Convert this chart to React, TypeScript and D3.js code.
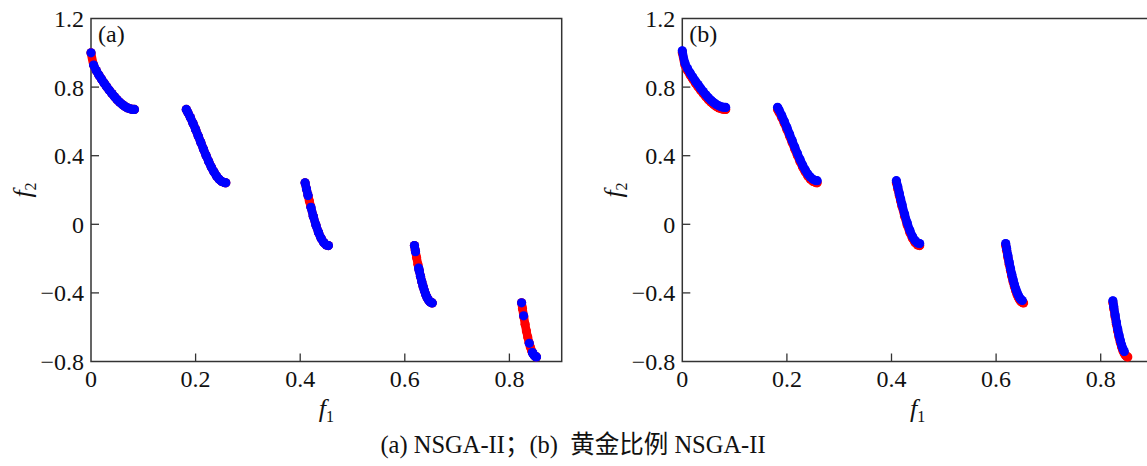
import React from 'react';
import * as d3 from 'd3';

type Pt = [number, number];

// ---- axis ticks ----
const X_TICKS = [0, 0.2, 0.4, 0.6, 0.8];
const X_TICK_LABELS = ['0', '0.2', '0.4', '0.6', '0.8'];
const Y_TICKS = [1.2, 0.8, 0.4, 0, -0.4, -0.8];
const Y_TICK_LABELS = ['1.2', '0.8', '0.4', '0', '−0.4', '−0.8'];

// ---- reference Pareto front (red), five disconnected pieces ----
const FRONT_SEG1: Pt[] = [[0, 1.0], [0.005, 0.9285], [0.01, 0.8969], [0.015, 0.8707], [0.02, 0.8468], [0.025, 0.8242], [0.03, 0.8025], [0.035, 0.7817], [0.04, 0.762], [0.045, 0.7434], [0.05, 0.7264], [0.055, 0.7112], [0.06, 0.698], [0.065, 0.6871], [0.07, 0.6788], [0.075, 0.6731], [0.08, 0.6701], [0.083, 0.6697]];
const FRONT_SEG2: Pt[] = [[0.1822, 0.6698], [0.185, 0.6539], [0.19, 0.6228], [0.195, 0.5889], [0.2, 0.5528], [0.205, 0.5152], [0.21, 0.4769], [0.215, 0.4387], [0.22, 0.4017], [0.225, 0.3666], [0.23, 0.3344], [0.235, 0.3058], [0.24, 0.2819], [0.245, 0.2631], [0.25, 0.25], [0.255, 0.2432], [0.2578, 0.2421]];
const FRONT_SEG3: Pt[] = [[0.4093, 0.2423], [0.412, 0.2065], [0.415, 0.1674], [0.4175, 0.1357], [0.42, 0.1051], [0.425, 0.0476], [0.43, -0.0036], [0.435, -0.0471], [0.44, -0.0818], [0.445, -0.1066], [0.45, -0.1208], [0.4539, -0.1242]];
const FRONT_SEG4: Pt[] = [[0.6184, -0.1242], [0.62, -0.1518], [0.6225, -0.1933], [0.625, -0.2325], [0.6275, -0.2693], [0.63, -0.3034], [0.6325, -0.3346], [0.635, -0.3627], [0.6375, -0.3874], [0.64, -0.4087], [0.6425, -0.4263], [0.645, -0.4402], [0.6475, -0.4502], [0.65, -0.4562], [0.6525, -0.4583]];
const FRONT_SEG5: Pt[] = [[0.8233, -0.4577], [0.825, -0.4917], [0.8275, -0.5389], [0.83, -0.5825], [0.8325, -0.6222], [0.835, -0.6578], [0.8375, -0.6889], [0.84, -0.7154], [0.8425, -0.7371], [0.845, -0.7538], [0.8475, -0.7655], [0.85, -0.772], [0.8518, -0.7734]];
const TRUE_FRONT: Pt[][] = [FRONT_SEG1, FRONT_SEG2, FRONT_SEG3, FRONT_SEG4, FRONT_SEG5];

// ---- (a) NSGA-II solutions (blue), runs of contiguous points ----
const A_RUN1: Pt[] = [[0, 1.0]];
const A_RUN2: Pt[] = [[0.005, 0.9285], [0.01, 0.8969], [0.015, 0.8707], [0.02, 0.8468], [0.025, 0.8242], [0.03, 0.8025], [0.035, 0.7817], [0.04, 0.762], [0.045, 0.7434], [0.05, 0.7264], [0.055, 0.7112], [0.06, 0.698], [0.065, 0.6871], [0.07, 0.6788], [0.075, 0.6731], [0.08, 0.6701], [0.083, 0.6697]];
const A_RUN3: Pt[] = [[0.1822, 0.6698], [0.185, 0.6539], [0.19, 0.6228], [0.195, 0.5889], [0.2, 0.5528], [0.205, 0.5152], [0.21, 0.4769], [0.215, 0.4387], [0.22, 0.4017], [0.225, 0.3666], [0.23, 0.3344], [0.235, 0.3058], [0.24, 0.2819], [0.245, 0.2631], [0.25, 0.25], [0.255, 0.2432], [0.2578, 0.2421]];
const A_RUN4: Pt[] = [[0.4093, 0.2423], [0.412, 0.2065], [0.415, 0.1674]];
const A_RUN5: Pt[] = [[0.4205, 0.0993], [0.425, 0.0476], [0.43, -0.0036], [0.435, -0.0471], [0.44, -0.0818], [0.445, -0.1066], [0.45, -0.1208], [0.4539, -0.1242]];
const A_RUN6: Pt[] = [[0.6184, -0.1242], [0.6205, -0.1601]];
const A_RUN7: Pt[] = [[0.6265, -0.2548], [0.6275, -0.2693], [0.63, -0.3034], [0.6325, -0.3346], [0.635, -0.3627], [0.6375, -0.3874], [0.64, -0.4087], [0.6425, -0.4263], [0.645, -0.4402], [0.6475, -0.4502], [0.65, -0.4562], [0.6525, -0.4583]];
const A_RUN8: Pt[] = [[0.8233, -0.4577]];
const A_RUN9: Pt[] = [[0.8272, -0.5335]];
const A_RUN10: Pt[] = [[0.838, -0.694]];
const A_RUN11: Pt[] = [[0.844, -0.7475], [0.845, -0.7538], [0.8475, -0.7655], [0.85, -0.772], [0.8518, -0.7734]];
const PANEL_A_BLUE: Pt[][] = [A_RUN1, A_RUN2, A_RUN3, A_RUN4, A_RUN5, A_RUN6, A_RUN7, A_RUN8, A_RUN9, A_RUN10, A_RUN11];

// ---- (b) golden-ratio NSGA-II solutions (blue), lying just above the front ----
const B_RUN1: Pt[] = [[0, 1.012], [0.005, 0.9405], [0.01, 0.9089], [0.015, 0.8827], [0.02, 0.8588], [0.025, 0.8362], [0.03, 0.8145], [0.035, 0.7937], [0.04, 0.774], [0.045, 0.7554], [0.05, 0.7384], [0.055, 0.7232], [0.06, 0.71], [0.065, 0.6991], [0.07, 0.6908], [0.075, 0.6851], [0.08, 0.6821], [0.083, 0.6817]];
const B_RUN2: Pt[] = [[0.1822, 0.6818], [0.185, 0.6659], [0.19, 0.6348], [0.195, 0.6009], [0.2, 0.5648], [0.205, 0.5272], [0.21, 0.4889], [0.215, 0.4507], [0.22, 0.4137], [0.225, 0.3786], [0.23, 0.3464], [0.235, 0.3178], [0.24, 0.2939], [0.245, 0.2751], [0.25, 0.262], [0.255, 0.2552], [0.2578, 0.2541]];
const B_RUN3: Pt[] = [[0.4093, 0.2543], [0.412, 0.2185], [0.415, 0.1794], [0.4175, 0.1477], [0.42, 0.1171], [0.425, 0.0596], [0.43, 0.0084], [0.435, -0.0351], [0.44, -0.0698], [0.445, -0.0946], [0.45, -0.1088], [0.4539, -0.1122]];
const B_RUN4: Pt[] = [[0.6184, -0.1122], [0.62, -0.1398], [0.6225, -0.1813], [0.625, -0.2205], [0.6275, -0.2573], [0.63, -0.2914], [0.6325, -0.3226], [0.635, -0.3507], [0.6375, -0.3754], [0.64, -0.3967], [0.6425, -0.4143], [0.645, -0.4282], [0.6475, -0.4382], [0.65, -0.4442]];
const B_RUN5: Pt[] = [[0.8233, -0.4457], [0.825, -0.4797], [0.8275, -0.5269], [0.83, -0.5705], [0.8325, -0.6102], [0.835, -0.6458], [0.8375, -0.6769], [0.84, -0.7034], [0.8425, -0.7251], [0.845, -0.7418]];
const PANEL_B_BLUE: Pt[][] = [B_RUN1, B_RUN2, B_RUN3, B_RUN4, B_RUN5];

const W = 1147;
const H = 466;
const TOP = 18.5;
const BOTTOM = 361.5;
const PX_PER_UNIT = 523;
const X_MAX = 0.9;
const SERIF = '"Liberation Serif", "Times New Roman", "Noto Sans CJK SC", serif';
const BLUE = '#0000ff';
const RED = '#ff0000';
const MARK_W = 8.6;

interface PanelProps {
  left: number;
  label: string;
  red: Pt[][];
  blue: Pt[][];
}

function Runs({ runs, color, x, y }: { runs: Pt[][]; color: string; x: d3.ScaleLinear<number, number>; y: d3.ScaleLinear<number, number> }) {
  const line = d3
    .line<Pt>()
    .x((d) => x(d[0]))
    .y((d) => y(d[1]))
    .curve(d3.curveMonotoneX);
  return (
    <g>
      {runs.map((run, i) => (
        <g key={i}>
          {run.length > 1 && (
            <path d={line(run) || ''} fill="none" stroke={color} strokeWidth={MARK_W} strokeLinecap="round" strokeLinejoin="round" />
          )}
          {run.map((p, j) => (
            <circle key={j} cx={x(p[0])} cy={y(p[1])} r={MARK_W / 2 + 0.3} fill={color} />
          ))}
        </g>
      ))}
    </g>
  );
}

function Panel({ left, label, red, blue }: PanelProps) {
  const x = d3.scaleLinear().domain([0, X_MAX]).range([left, left + X_MAX * PX_PER_UNIT]);
  const y = d3.scaleLinear().domain([-0.8, 1.2]).range([BOTTOM, TOP]);
  const right = x(X_MAX);
  const midX = x(X_MAX / 2);
  const midY = (TOP + BOTTOM) / 2;
  return (
    <g>
      <rect x={left} y={TOP} width={right - left} height={BOTTOM - TOP} fill="none" stroke="#333" strokeWidth={1.5} />
      {Y_TICKS.map((t, i) => (
        <g key={'y' + i}>
          {t < 1.2 && t > -0.8 && <line x1={left} x2={left + 8} y1={y(t)} y2={y(t)} stroke="#333" strokeWidth={1.3} />}
          <text x={left - 7} y={y(t)} dy="0.35em" textAnchor="end" fontFamily={SERIF} fontSize={24} fill="#111">
            {Y_TICK_LABELS[i]}
          </text>
        </g>
      ))}
      {X_TICKS.map((t, i) => (
        <g key={'x' + i}>
          {t > 0 && <line x1={x(t)} x2={x(t)} y1={BOTTOM} y2={BOTTOM - 8} stroke="#333" strokeWidth={1.3} />}
          <text x={x(t)} y={BOTTOM + 25} textAnchor="middle" fontFamily={SERIF} fontSize={24} fill="#111">
            {X_TICK_LABELS[i]}
          </text>
        </g>
      ))}
      <text x={left + 7} y={42} fontFamily={SERIF} fontSize={24} fill="#111">
        {label}
      </text>
      <text x={midX} y={BOTTOM + 55} textAnchor="middle" fontFamily={SERIF} fill="#111">
        <tspan fontStyle="italic" fontSize={26}>f</tspan>
        <tspan fontSize={16} dy={5}>1</tspan>
      </text>
      <text transform={`translate(${left - 60},${midY}) rotate(-90)`} textAnchor="middle" fontFamily={SERIF} fill="#111">
        <tspan fontStyle="italic" fontSize={26}>f</tspan>
        <tspan fontSize={16} dy={5}>2</tspan>
      </text>
      <Runs runs={red} color={RED} x={x} y={y} />
      <Runs runs={blue} color={BLUE} x={x} y={y} />
    </g>
  );
}

export default function App() {
  return (
    <svg width={W} height={H} style={{ position: 'absolute', left: 0, top: 0, background: '#fff' }}>
      <rect x={0} y={0} width={W} height={H} fill="#fff" />
      <Panel left={91} label="(a)" red={TRUE_FRONT} blue={PANEL_A_BLUE} />
      <Panel left={682.3} label="(b)" red={TRUE_FRONT} blue={PANEL_B_BLUE} />
      <text x={573} y={453} textAnchor="middle" fontFamily={SERIF} fontSize={24.5} fill="#111" style={{ whiteSpace: 'pre' }}>
        {'(a) NSGA-II；(b)  黄金比例 NSGA-II'}
      </text>
    </svg>
  );
}
